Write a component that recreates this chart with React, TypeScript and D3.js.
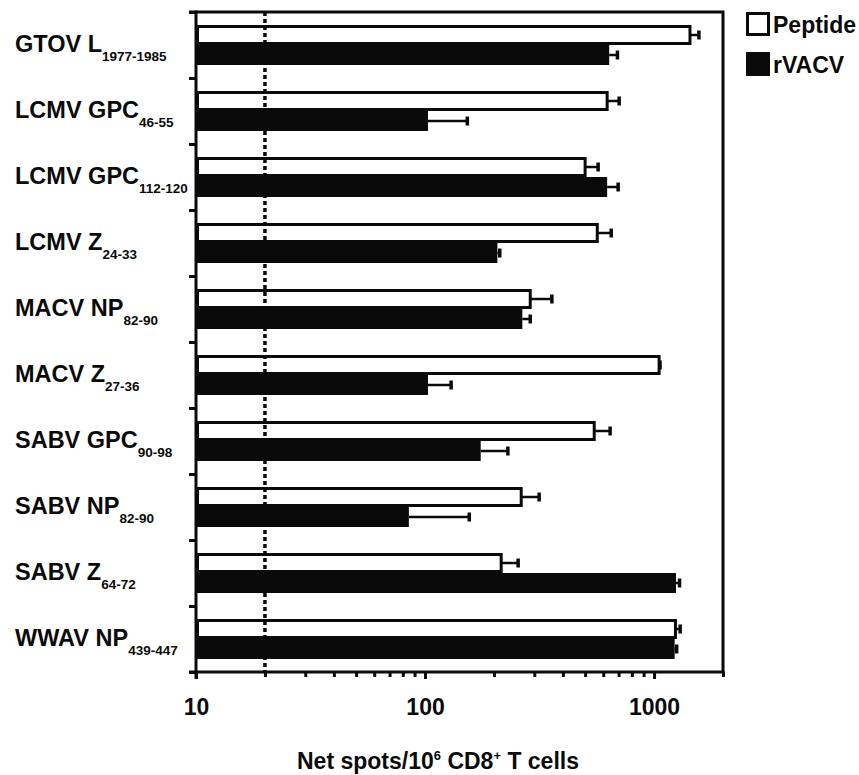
import React, { useEffect, useRef } from 'react';
import * as d3 from 'd3';

// epitope labels: main part + subscript
const labelMain = ['GTOV L', 'LCMV GPC', 'LCMV GPC', 'LCMV Z', 'MACV NP', 'MACV Z', 'SABV GPC', 'SABV NP', 'SABV Z', 'WWAV NP'];
const labelSub = ['1977-1985', '46-55', '112-120', '24-33', '82-90', '27-36', '90-98', '82-90', '64-72', '439-447'];

const seriesNames = ['Peptide', 'rVACV'];
const peptide = [1435, 624, 500, 565, 288, 1052, 548, 263, 215, 1240];
const peptideErr = [135, 80, 70, 85, 70, 10, 95, 52, 40, 60];
const rvacv = [637, 103, 624, 207, 266, 103, 175, 85, 1247, 1230];
const rvacvErr = [55, 50, 73, 5, 22, 27, 55, 71, 45, 25];

const majorTicks = [10, 100, 1000];
const minorTicks = [20, 30, 40, 50, 60, 70, 80, 90, 200, 300, 400, 500, 600, 700, 800, 900, 2000];
const cutoff = 20;

const App = () => {
	const ref = useRef(null);
	const width = 859;
	const height = 775;

	useEffect(() => {
		document.body.style.margin = '0';
		const svg = d3.select(ref.current);
		svg.selectAll('*').remove();

		const m = { l: 196, r: 723, t: 12, b: 672 };
		const font = '"Liberation Sans", Arial, sans-serif';
		const keys = labelMain.map((d, i) => d + labelSub[i]);

		const x = d3.scaleLog().domain([10, 2000]).range([m.l, m.r]);
		const y = d3.scaleBand().domain(keys).range([m.t, m.b]).paddingInner(0.394).paddingOuter(0.197);
		const ySub = d3.scaleBand().domain(seriesNames).range([0, y.bandwidth()]);
		const yEdge = d3.scaleLinear().domain([0, keys.length]).range([m.t, m.b]);

		const rows = keys.map((k, i) => ({
			key: k,
			bars: [
				{ s: 'Peptide', v: peptide[i], e: peptideErr[i] },
				{ s: 'rVACV', v: rvacv[i], e: rvacvErr[i] },
			],
		}));

		const g = svg.append('g');

		// bars
		const row = g.selectAll('.row').data(rows).join('g')
			.attr('transform', d => `translate(0,${y(d.key)})`);

		row.selectAll('rect').data(d => d.bars).join('rect')
			.attr('x', d => (d.s === 'Peptide' ? m.l + 1.5 : m.l))
			.attr('y', d => ySub(d.s) + (d.s === 'Peptide' ? 1.5 : 0))
			.attr('width', d => x(d.v) - m.l - (d.s === 'Peptide' ? 1.5 : 0))
			.attr('height', d => ySub.bandwidth() - (d.s === 'Peptide' ? 3 : 0))
			.attr('fill', d => (d.s === 'Peptide' ? '#fff' : '#0a0a0a'))
			.attr('stroke', d => (d.s === 'Peptide' ? '#0a0a0a' : 'none'))
			.attr('stroke-width', 3);

		// error bars
		row.selectAll('.err').data(d => d.bars).join('line')
			.attr('class', 'err')
			.attr('x1', d => x(d.v))
			.attr('x2', d => x(d.v + d.e))
			.attr('y1', d => ySub(d.s) + ySub.bandwidth() / 2)
			.attr('y2', d => ySub(d.s) + ySub.bandwidth() / 2)
			.attr('stroke', '#0a0a0a')
			.attr('stroke-width', 2.5);
		row.selectAll('.cap').data(d => d.bars).join('line')
			.attr('class', 'cap')
			.attr('x1', d => x(d.v + d.e))
			.attr('x2', d => x(d.v + d.e))
			.attr('y1', d => ySub(d.s) + ySub.bandwidth() / 2 - 4.5)
			.attr('y2', d => ySub(d.s) + ySub.bandwidth() / 2 + 4.5)
			.attr('stroke', '#0a0a0a')
			.attr('stroke-width', 3.5);

		// dotted cutoff line
		g.append('line')
			.attr('x1', x(cutoff)).attr('x2', x(cutoff))
			.attr('y1', m.t).attr('y2', m.b)
			.attr('stroke', '#0a0a0a')
			.attr('stroke-width', 3.5)
			.attr('stroke-dasharray', '4,3');

		// frame: top + right
		g.append('path')
			.attr('d', `M${m.l - 7},${m.t}H${m.r}V${m.b}`)
			.attr('fill', 'none')
			.attr('stroke', '#0a0a0a')
			.attr('stroke-width', 3);

		// y axis with ticks at category edges
		const yAxis = g.append('g')
			.attr('transform', `translate(${m.l},0)`)
			.call(d3.axisLeft(yEdge).ticks(keys.length).tickSize(7).tickSizeOuter(0).tickFormat(() => ''));
		yAxis.select('.domain').remove();
		yAxis.selectAll('line').attr('stroke', '#0a0a0a').attr('stroke-width', 3);
		g.append('line')
			.attr('x1', m.l).attr('x2', m.l)
			.attr('y1', m.t - 1.5).attr('y2', m.b + 7)
			.attr('stroke', '#0a0a0a').attr('stroke-width', 3);

		// x axis
		g.append('line')
			.attr('x1', m.l - 7).attr('x2', m.r + 1.5)
			.attr('y1', m.b).attr('y2', m.b)
			.attr('stroke', '#0a0a0a').attr('stroke-width', 3);
		const xMinor = g.append('g')
			.attr('transform', `translate(0,${m.b})`)
			.call(d3.axisBottom(x).tickValues(minorTicks).tickSize(5).tickFormat(() => ''));
		const xMajor = g.append('g')
			.attr('transform', `translate(0,${m.b})`)
			.call(d3.axisBottom(x).tickValues(majorTicks).tickSize(7).tickPadding(20).tickFormat(d3.format('d')));
		[xMinor, xMajor].forEach(a => {
			a.select('.domain').remove();
			a.selectAll('line').attr('stroke', '#0a0a0a').attr('stroke-width', 3);
		});
		xMajor.selectAll('text')
			.attr('fill', '#0a0a0a')
			.style('font-family', font)
			.style('font-weight', 'bold')
			.style('font-size', '23px');

		// category labels
		const lab = g.selectAll('.lab').data(keys).join('text')
			.attr('class', 'lab')
			.attr('x', 15)
			.attr('y', d => y(d) + ySub.bandwidth() + 7)
			.attr('fill', '#0a0a0a')
			.style('font-family', font)
			.style('font-weight', 'bold')
			.style('font-size', '23.5px');
		lab.append('tspan').text((d, i) => labelMain[i]);
		lab.append('tspan').attr('dy', 9).style('font-size', '13.5px').text((d, i) => labelSub[i]);

		// axis title
		const title = g.append('text')
			.attr('x', 438)
			.attr('y', 769)
			.attr('text-anchor', 'middle')
			.attr('fill', '#0a0a0a')
			.style('font-family', font)
			.style('font-weight', 'bold')
			.style('font-size', '23px');
		title.append('tspan').text('Net spots/10');
		title.append('tspan').attr('dy', -9).style('font-size', '13px').text('6');
		title.append('tspan').attr('dy', 9).text(' CD8');
		title.append('tspan').attr('dy', -9).style('font-size', '13px').text('+');
		title.append('tspan').attr('dy', 9).text(' T cells');

		// legend
		const legend = g.append('g').attr('transform', 'translate(746,12)');
		const li = legend.selectAll('g').data(seriesNames).join('g')
			.attr('transform', (d, i) => `translate(0,${i * 40})`);
		li.append('rect')
			.attr('x', 1.5).attr('y', 1.5)
			.attr('width', 21).attr('height', 21)
			.attr('fill', d => (d === 'Peptide' ? '#fff' : '#0a0a0a'))
			.attr('stroke', '#0a0a0a')
			.attr('stroke-width', 3);
		li.append('text')
			.attr('x', 27).attr('y', 21)
			.attr('fill', '#0a0a0a')
			.style('font-family', font)
			.style('font-weight', 'bold')
			.style('font-size', '23px')
			.text(d => d);
	}, []);

	return <svg width={width} height={height} ref={ref} style={{ display: 'block' }} />;
};

export default App;
